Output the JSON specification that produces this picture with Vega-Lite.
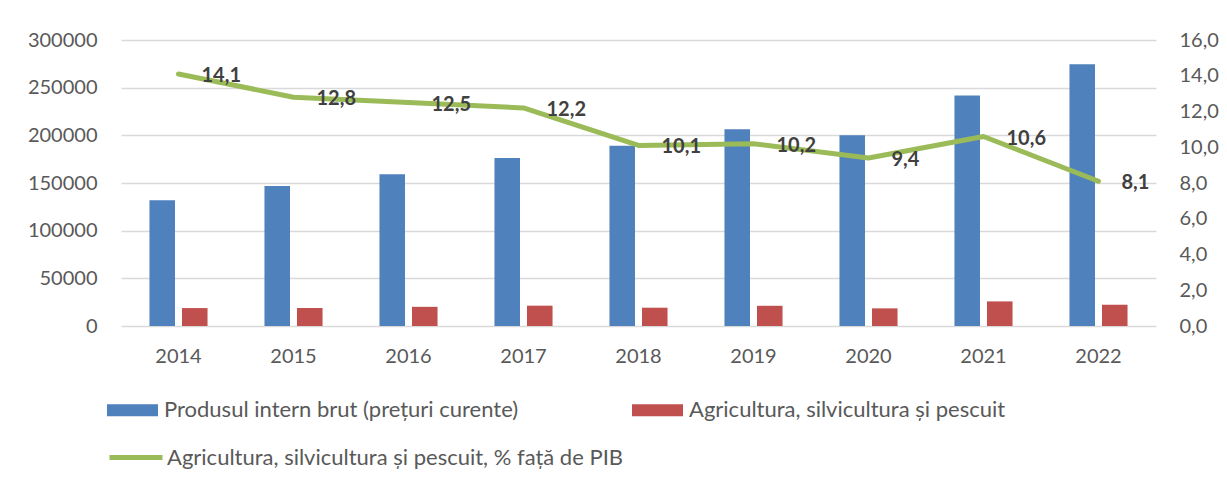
{
  "$schema": "https://vega.github.io/schema/vega-lite/v6.json",
  "width": 1035,
  "height": 286,
  "autosize": {"type": "none"},
  "padding": {"left": 121, "top": 40, "right": 71, "bottom": 157},
  "background": "#ffffff",
  "config": {
    "font": "Lato",
    "view": {"stroke": null},
    "axis": {"labelFont": "Lato", "labelFontSize": 20, "labelColor": "#595959", "domain": false, "ticks": false, "title": null}
  },
  "datasets": {
    "bars": [
      {"year": "2014", "series": "Produsul intern brut (prețuri curente)", "value": 132000},
      {"year": "2014", "series": "Agricultura, silvicultura și pescuit", "value": 18800},
      {"year": "2015", "series": "Produsul intern brut (prețuri curente)", "value": 146900},
      {"year": "2015", "series": "Agricultura, silvicultura și pescuit", "value": 18800},
      {"year": "2016", "series": "Produsul intern brut (prețuri curente)", "value": 159200},
      {"year": "2016", "series": "Agricultura, silvicultura și pescuit", "value": 20100},
      {"year": "2017", "series": "Produsul intern brut (prețuri curente)", "value": 176200},
      {"year": "2017", "series": "Agricultura, silvicultura și pescuit", "value": 21300},
      {"year": "2018", "series": "Produsul intern brut (prețuri curente)", "value": 189200},
      {"year": "2018", "series": "Agricultura, silvicultura și pescuit", "value": 19200},
      {"year": "2019", "series": "Produsul intern brut (prețuri curente)", "value": 206300},
      {"year": "2019", "series": "Agricultura, silvicultura și pescuit", "value": 21200},
      {"year": "2020", "series": "Produsul intern brut (prețuri curente)", "value": 200000},
      {"year": "2020", "series": "Agricultura, silvicultura și pescuit", "value": 18500},
      {"year": "2021", "series": "Produsul intern brut (prețuri curente)", "value": 241900},
      {"year": "2021", "series": "Agricultura, silvicultura și pescuit", "value": 25800},
      {"year": "2022", "series": "Produsul intern brut (prețuri curente)", "value": 274600},
      {"year": "2022", "series": "Agricultura, silvicultura și pescuit", "value": 22300}
    ],
    "pct": [
      {"year": "2014", "pct": 14.1},
      {"year": "2015", "pct": 12.8},
      {"year": "2016", "pct": 12.5},
      {"year": "2017", "pct": 12.2},
      {"year": "2018", "pct": 10.1},
      {"year": "2019", "pct": 10.2},
      {"year": "2020", "pct": 9.4},
      {"year": "2021", "pct": 10.6},
      {"year": "2022", "pct": 8.1}
    ]
  },
  "layer": [
    {
      "data": {"name": "bars"},
      "mark": {"type": "bar"},
      "encoding": {
        "x": {"field": "year", "type": "ordinal", "scale": {"type": "band", "paddingInner": 0.495, "paddingOuter": 0.2475}, "axis": {"labelAngle": 0, "labelPadding": 20, "grid": false}},
        "xOffset": {"field": "series", "type": "nominal", "sort": ["Produsul intern brut (prețuri curente)", "Agricultura, silvicultura și pescuit"], "scale": {"paddingInner": 0.215, "paddingOuter": 0}},
        "y": {"field": "value", "type": "quantitative", "scale": {"domain": [0, 300000], "nice": false}, "axis": {"values": [0, 50000, 100000, 150000, 200000, 250000, 300000], "format": "d", "grid": true, "gridColor": "#d9d9d9", "gridWidth": 1.5, "labelPadding": 24}},
        "fill": {
          "field": "series", "type": "nominal",
          "scale": {"domain": ["Produsul intern brut (prețuri curente)", "Agricultura, silvicultura și pescuit"], "range": ["#4f81bd", "#c0504d"]},
          "legend": {"orient": "none", "legendX": -14, "legendY": 344.5, "direction": "horizontal", "columns": 2, "columnPadding": 113, "title": null, "symbolType": "M-1,-0.235H1V0.235H-1Z", "symbolSize": 2601, "symbolStrokeWidth": 0, "labelFontSize": 22, "labelColor": "#595959", "labelOffset": 6, "labelLimit": 0, "padding": 0}
        }
      }
    },
    {
      "data": {"name": "pct"},
      "encoding": {
        "x": {"field": "year", "type": "ordinal", "scale": {"type": "band", "paddingInner": 0.495, "paddingOuter": 0.2475}},
        "y": {"field": "pct", "type": "quantitative", "scale": {"domain": [0, 16], "nice": false}, "axis": {"orient": "right", "values": [0, 2, 4, 6, 8, 10, 12, 14, 16], "labelExpr": "replace(format(datum.value, '.1f'), '.', ',')", "grid": false, "labelPadding": 23}}
      },
      "layer": [
        {
          "mark": {"type": "line", "strokeWidth": 5, "strokeJoin": "round", "strokeCap": "round"},
          "encoding": {
            "stroke": {
              "datum": "Agricultura, silvicultura și pescuit, % față de PIB", "type": "nominal",
              "scale": {"range": ["#9bbb59"]},
              "legend": {"orient": "none", "legendX": -14, "legendY": 388.5, "title": null, "symbolType": "stroke", "symbolSize": 2809, "symbolStrokeWidth": 5, "labelFontSize": 22, "labelColor": "#595959", "labelOffset": 2, "labelLimit": 0, "padding": 0}
            }
          }
        },
        {
          "transform": [{"calculate": "replace(format(datum.pct, '.1f'), '.', ',')", "as": "label"}],
          "mark": {"type": "text", "align": "left", "baseline": "middle", "dx": 23, "dy": 2, "fontSize": 20, "fontWeight": "bold", "color": "#404040"},
          "encoding": {"text": {"field": "label"}}
        }
      ]
    }
  ],
  "resolve": {"scale": {"y": "independent"}}
}
